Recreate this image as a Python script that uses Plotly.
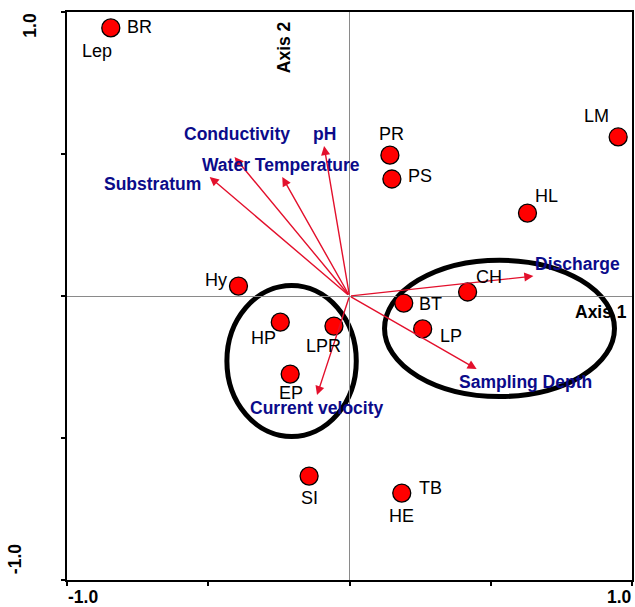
import plotly.graph_objects as go

# ---- data ----
site_names = ["BR", "LM", "PR", "PS", "HL", "CH", "BT", "LP", "Hy", "HP", "LPR", "EP", "SI", "TB"]
site_x = [-0.845, 0.951, 0.143, 0.150, 0.630, 0.418, 0.192, 0.259, -0.393, -0.245, -0.055, -0.210, -0.143, 0.185]
site_y = [0.944, 0.560, 0.496, 0.412, 0.292, 0.014, -0.025, -0.116, 0.035, -0.092, -0.106, -0.275, -0.634, -0.694]
extra_labels = ["Lep", "HE"]          # second labels sharing a point
extra_label_site = ["BR", "TB"]

vec_names = ["Substratum", "Conductivity", "Water Temperature", "pH", "Discharge", "Sampling Depth", "Current velocity"]
vec_x = [-0.495, -0.407, -0.238, -0.090, 0.651, 0.450, -0.115]
vec_y = [0.419, 0.489, 0.419, 0.528, 0.070, -0.257, -0.349]

ellipse_cx = [-0.205, 0.531]
ellipse_cy = [-0.229, -0.114]
ellipse_rx = [0.229, 0.407]
ellipse_ry = [0.266, 0.240]

axis_ticks = [-1.0, -0.5, 0.0, 0.5, 1.0]

# ---- styling / label offsets (pixels: dx right, dy down) ----
site_label_off = {"BR": (29, -1), "LM": (-22, -21), "PR": (2, -21), "PS": (28, -3), "HL": (19, -17),
                  "CH": (21, -15), "BT": (27, 1), "LP": (28, 7), "Hy": (-22, -6), "HP": (-17, 16),
                  "LPR": (-10, 20), "EP": (1, 19), "SI": (0, 22), "TB": (29, -5)}
extra_off = {"Lep": (-14, 23), "HE": (0, 23)}
vec_label_off = {"Substratum": (-57, 7), "Conductivity": (2, -23), "Water Temperature": (-1, -12),
                 "pH": (0, -12), "Discharge": (44, -12), "Sampling Depth": (49, 13),
                 "Current velocity": (0, 13)}

FONT = "Liberation Sans, Arial, sans-serif"
RED = "#e3102c"
NAVY = "#0b0b8a"

W, H = 635, 607
L, R, T, B = 67, 1, 12, 27
PW, PH = W - L - R, H - T - B


def px2paper(px, py):
    return (px - L) / PW, (H - B - py) / PH


fig = go.Figure()

fig.add_trace(go.Scatter(
    x=site_x, y=site_y, mode="markers",
    marker=dict(size=18, color="#ff0000", line=dict(color="black", width=1.3)),
    hoverinfo="text", text=site_names, showlegend=False))

annotations = []
# arrows
for name, vx, vy in zip(vec_names, vec_x, vec_y):
    annotations.append(dict(
        x=vx, y=vy, ax=0, ay=0, xref="x", yref="y", axref="x", ayref="y",
        text="", showarrow=True, arrowhead=2, arrowsize=1.3, arrowwidth=1.4,
        arrowcolor=RED, standoff=0, startstandoff=0))
    dx, dy = vec_label_off[name]
    annotations.append(dict(
        x=vx, y=vy, xref="x", yref="y", text=f"<b>{name}</b>", showarrow=False,
        xshift=dx, yshift=-dy, font=dict(family=FONT, size=17.5, color=NAVY)))

# site labels
for name, sx, sy in zip(site_names, site_x, site_y):
    dx, dy = site_label_off[name]
    annotations.append(dict(
        x=sx, y=sy, xref="x", yref="y", text=name, showarrow=False,
        xshift=dx, yshift=-dy, font=dict(family=FONT, size=18, color="black")))
for lab, site in zip(extra_labels, extra_label_site):
    i = site_names.index(site)
    dx, dy = extra_off[lab]
    annotations.append(dict(
        x=site_x[i], y=site_y[i], xref="x", yref="y", text=lab, showarrow=False,
        xshift=dx, yshift=-dy, font=dict(family=FONT, size=18, color="black")))

# axis titles and tick labels
def paper_text(txt, px, py, angle=0, size=17.5):
    xp, yp = px2paper(px, py)
    annotations.append(dict(x=xp, y=yp, xref="paper", yref="paper", text=f"<b>{txt}</b>",
                            showarrow=False, textangle=angle, xanchor="center", yanchor="middle",
                            font=dict(family=FONT, size=size, color="black")))

paper_text("Axis 2", 285, 47, angle=-90)
paper_text("Axis 1", 603, 312)
paper_text(f"{axis_ticks[-1]:.1f}", 29.5, 25, angle=-90)
paper_text(f"{axis_ticks[0]:.1f}", 15, 559, angle=-90)
paper_text(f"{axis_ticks[0]:.1f}", 83.5, 597)
paper_text(f"{axis_ticks[-1]:.1f}", 621, 597)

shapes = []
for cx, cy, rx, ry in zip(ellipse_cx, ellipse_cy, ellipse_rx, ellipse_ry):
    shapes.append(dict(type="circle", xref="x", yref="y", x0=cx - rx, x1=cx + rx,
                       y0=cy - ry, y1=cy + ry, line=dict(color="black", width=5), layer="below"))

axis_common = dict(range=[axis_ticks[0], axis_ticks[-1]], showgrid=False, zeroline=True,
                   zerolinecolor="#8a8a8a", zerolinewidth=1, showline=True, linecolor="black",
                   linewidth=2, mirror=True, ticks="outside", ticklen=4, tickwidth=2,
                   tickcolor="black", tickvals=axis_ticks, showticklabels=False)

fig.update_layout(
    width=W, height=H, margin=dict(l=L, r=R, t=T, b=B, pad=0),
    paper_bgcolor="white", plot_bgcolor="white",
    xaxis=axis_common, yaxis=axis_common,
    annotations=annotations, shapes=shapes, showlegend=False)

fig.write_html("out.html", config={"displayModeBar": False},
               post_script="document.body.style.margin='0';document.body.style.padding='0';")
